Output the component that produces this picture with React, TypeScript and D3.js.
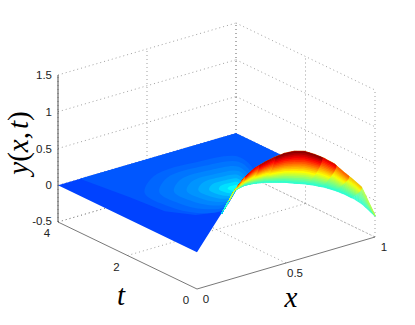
import React from "react";
import * as d3 from "d3";

const width = 415;
const height = 325;

const xTicks = [0, 0.5, 1];
const tTicks = [0, 2, 4];
const zTicks = [-0.5, 0, 0.5, 1, 1.5];

// dome, on the t = 0 plane
const domeX = [0.14, 0.212, 0.268, 0.324, 0.38, 0.436, 0.492, 0.547, 0.603, 0.659, 0.715, 0.771, 0.827, 0.855, 0.883, 0.927, 1];
const crestZ = [0.431, 0.694, 0.831, 0.913, 0.955, 0.984, 0.999, 0.988, 0.947, 0.867, 0.773, 0.659, 0.503, 0.429, 0.355, 0.229, -0.204];
const edgeZ = [0.431, 0.694, 0.722, 0.709, 0.683, 0.644, 0.604, 0.552, 0.505, 0.445, 0.378, 0.298, 0.204, 0.15, 0.097, -0.003, -0.218];

// scallops, painted from the far end to the near end
const lobeEnd = [1, 0.927, 0.855, 0.783, 0.705, 0.44, 0.35, 0.27, 0.225, 0.18, 0.15];
const lobeTop = [0.56, 0.7, 0.8, 0.92, 1, 0.95, 0.88, 0.76, 0.58, 0.4, 0.32];
const lobeBulge = [0, 0.06, 0.08, 0.08, 0.08, 0.07, 0.06, 0.05, 0.03, 0.02, 0];

// flat part of the surface
const plateX = [0, 1, 1, 0.848, 0.634, 0.581, 0.369, 0];
const plateT = [4, 4, 1.5, 2.265, 2.03, 1.898, 1.182, 0];
const upperX = [0.123, 1, 1, 0.6, 0.378, 0.265, 0.185, 0.164];
const upperT = [4, 4, 2, 1.94, 1.24, 1.4, 1.874, 2.774];

// contour around the foot of the dome, shrunk towards its tip
const contourX = [0.606, 0.384, 0.268, 0.214, 0.228, 0.393, 0.665, 0.851, 0.795];
const contourT = [1.94, 1.257, 1.437, 2.023, 2.815, 3.377, 3.427, 3.148, 2.427];
const contourScale = [0.95, 0.8, 0.65, 0.52, 0.4, 0.29, 0.19, 0.1];
const contourValue = [0.225, 0.24, 0.255, 0.27, 0.29, 0.315, 0.345, 0.38];

const x0 = 197;
const y0 = 289;
const xToPx = d3.scaleLinear().domain([0, 1]).range([0, 178]);
const tToPx = d3.scaleLinear().domain([0, 4]).range([0, -139]);
const xToPy = d3.scaleLinear().domain([0, 1]).range([0, -52]);
const tToPy = d3.scaleLinear().domain([0, 4]).range([0, -67]);
const zToPy = d3.scaleLinear().domain([-0.5, 1.5]).range([0, -147]);

const project = (x: number, t: number, z: number): [number, number] => [
  x0 + xToPx(x) + tToPx(t),
  y0 + xToPy(x) + tToPy(t) + zToPy(z),
];

const jet = d3
  .scaleLinear<string>()
  .domain([0, 0.125, 0.375, 0.625, 0.875, 1])
  .range(["#00008f", "#0000ff", "#00ffff", "#ffff00", "#ff0000", "#7a0000"]);

const crest = d3.scaleLinear().domain(domeX).range(crestZ);
const edge = d3.scaleLinear().domain(domeX).range(edgeZ);

const closed = d3.line();
const levels = d3.range(0, 18).map((i) => i / 18);
const levelStep = 1 / 18;

const heightAt = (x: number, l: number) => edge(x) + (crest(x) - edge(x)) * l;

function lobeBand(end: number, bulge: number, l: number) {
  const l2 = l + levelStep;
  const endAt = (v: number) => end - bulge * Math.pow(1 - v, 1.5);
  const top = d3.range(domeX[0], endAt(l2), 0.008).concat(endAt(l2));
  const bottom = d3.range(domeX[0], endAt(l), 0.008).concat(endAt(l));
  const pts = [
    ...top.map((x) => project(x, 0, heightAt(x, l2))),
    ...bottom.reverse().map((x) => project(x, 0, heightAt(x, l))),
  ];
  return closed(pts) + "Z";
}

const flatPath = (xs: number[], ts: number[]) =>
  closed(xs.map((x, i) => project(x, ts[i], 0))) + "Z";

const contourPath = (scale: number) => {
  const pts = contourX.map((x, i) => {
    const cx = contourX[0] + (x - contourX[0]) * scale;
    const ct = contourT[0] + (contourT[i] - contourT[0]) * scale;
    return project(cx, ct, 0);
  });
  return d3.line().curve(d3.curveCatmullRomClosed)(pts) as string;
};

function Seg({ a, b, dotted, stroke }: { a: [number, number]; b: [number, number]; dotted?: boolean; stroke?: string }) {
  return (
    <line
      x1={a[0]}
      y1={a[1]}
      x2={b[0]}
      y2={b[1]}
      stroke={stroke || (dotted ? "#777" : "#555")}
      strokeWidth={dotted ? 0.7 : 0.8}
      strokeDasharray={dotted ? "1 3" : undefined}
    />
  );
}

export default function App() {
  const zBottom = -0.5;
  const zTop = 1.5;
  const tickFont = { fontFamily: "Liberation Sans, sans-serif", fontSize: 11.5, fill: "#222" };
  const labelFont = { fontFamily: "Liberation Serif, serif", fontSize: 29, fill: "#000" };

  return (
    <svg width={width} height={height} style={{ position: "absolute", left: 0, top: 0 }}>
      {/* Grid on the walls and the floor */}
      {zTicks.map((z) => (
        <g key={"wall-" + z}>
          <Seg dotted a={project(0, 4, z)} b={project(1, 4, z)} />
          <Seg dotted a={project(1, 4, z)} b={project(1, 0, z)} />
        </g>
      ))}
      {xTicks.map((x) => (
        <g key={"gx-" + x}>
          <Seg dotted a={project(x, 4, zBottom)} b={project(x, 4, zTop)} />
          {x > 0 && <Seg dotted a={project(x, 0, zBottom)} b={project(x, 4, zBottom)} />}
        </g>
      ))}
      {tTicks.map((t) => (
        <g key={"gt-" + t}>
          <Seg dotted a={project(1, t, zBottom)} b={project(1, t, zTop)} />
          {t > 0 && <Seg dotted a={project(0, t, zBottom)} b={project(1, t, zBottom)} />}
        </g>
      ))}

      {/* Flat part of the surface */}
      <path d={flatPath(plateX, plateT)} fill={jet(0.19)} />
      <path d={flatPath(upperX, upperT)} fill={jet(0.21)} />
      {contourScale.map((s, i) => (
        <path key={"c" + i} d={contourPath(s)} fill={jet(contourValue[i])} />
      ))}

      {/* Dome */}
      {lobeEnd.map((end, i) =>
        levels.map((l) => {
          const low = Math.min(lobeTop[i], 0.41);
          const c = jet(low + (lobeTop[i] - low) * (l + levelStep / 2));
          return (
            <path
              key={i + "-" + l}
              d={lobeBand(end, lobeBulge[i], l)}
              fill={c}
              stroke={c}
              strokeWidth={0.3}
            />
          );
        })
      )}

      {/* Box */}
      <Seg a={project(0, 4, zBottom)} b={project(0, 4, zTop)} stroke="#222" />
      <Seg a={project(0, 4, zBottom)} b={project(0, 0, zBottom)} />
      <Seg a={project(0, 0, zBottom)} b={project(1, 0, zBottom)} />

      {/* Tick labels */}
      {zTicks.map((z) => {
        const [px, py] = project(0, 4, z);
        return (
          <text key={"z" + z} x={px - 6} y={py + (z === zBottom ? 3 : 4)} textAnchor="end" {...tickFont}>
            {z}
          </text>
        );
      })}
      {tTicks.map((t) => {
        const [px, py] = project(0, t, zBottom);
        return (
          <text key={"t" + t} x={px - 11} y={py + 15} textAnchor="middle" {...tickFont}>
            {t}
          </text>
        );
      })}
      {xTicks.map((x) => {
        const [px, py] = project(x, 0, zBottom);
        return (
          <text key={"x" + x} x={px + 9} y={py + 14} textAnchor="middle" {...tickFont}>
            {x}
          </text>
        );
      })}

      {/* Axis labels */}
      <text transform="translate(28,143) rotate(-90)" textAnchor="middle" {...labelFont}>
        <tspan fontStyle="italic">y</tspan>(<tspan fontStyle="italic">x</tspan>,<tspan dx="3" fontStyle="italic">t</tspan>)
      </text>
      <text x={121} y={305} textAnchor="middle" fontStyle="italic" {...labelFont}>
        t
      </text>
      <text x={291} y={307} textAnchor="middle" fontStyle="italic" {...labelFont}>
        x
      </text>
    </svg>
  );
}
